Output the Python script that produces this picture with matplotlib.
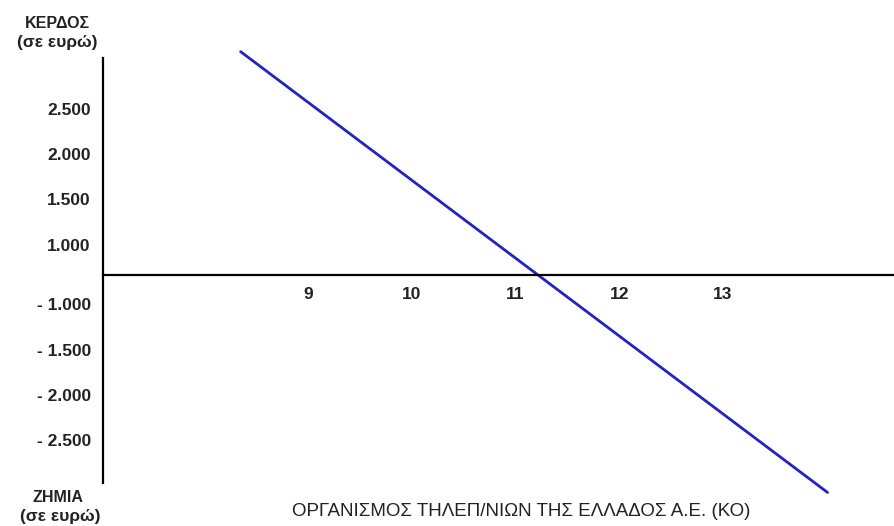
import numpy as np
import matplotlib.pyplot as plt

# === Data (schematic scale, as in the original) ===
price_ticks = [9, 10, 11, 12, 13]
price_labels = ["9", "10", "11", "12", "13"]
profit_ticks = [3.66, 2.66, 1.66, 0.66, -0.66, -1.66, -2.66, -3.66]
profit_labels = ["2.500", "2.000", "1.500", "1.000",
                 "- 1.000", "- 1.500", "- 2.000", "- 2.500"]
line_x = [8.35, 14.01]
line_y = [4.92, -4.81]

# axis extents
y_axis_x = 7.02
x_axis_end = 14.66
y_axis_top = 4.77
y_axis_bottom = -4.61

plt.rcParams['font.family'] = ['Liberation Sans', 'DejaVu Sans']

fig = plt.figure(figsize=(8.95, 5.26), dpi=100)
ax = fig.add_axes([0, 0, 1, 1])
ax.set_xlim(6.03, 14.66)
ax.set_ylim(-5.55, 6.06)

# === Axes drawn as crossing spines ===
ax.spines['top'].set_visible(False)
ax.spines['right'].set_visible(False)
ax.spines['left'].set_position(('data', y_axis_x))
ax.spines['bottom'].set_position(('data', 0))
ax.spines['left'].set_bounds(y_axis_bottom, y_axis_top)
ax.spines['bottom'].set_bounds(y_axis_x, x_axis_end)
ax.spines['left'].set_linewidth(1.6)
ax.spines['bottom'].set_linewidth(1.6)

ax.set_xticks(price_ticks)
ax.set_xticklabels(price_labels)
ax.set_yticks(profit_ticks)
ax.set_yticklabels(profit_labels)
ax.tick_params(axis='both', length=0, labelsize=12.5)
ax.tick_params(axis='x', pad=9)
ax.tick_params(axis='y', pad=8.5)
for lbl in ax.get_xticklabels() + ax.get_yticklabels():
    lbl.set_fontweight('bold')
    lbl.set_color('#222222')

# === Demand/profit line ===
ax.plot(line_x, line_y, color="#2323c0", linewidth=2.0, solid_capstyle='round')

# === Labels ===
ax.text(57, 526 - 24, "ΚΕΡΔΟΣ", transform=None, ha='center', va='center',
        fontsize=11.5, fontweight='bold', color='#222222')
ax.text(57, 526 - 43, "(σε ευρώ)", transform=None, ha='center', va='center',
        fontsize=12.5, fontweight='bold', color='#222222')
ax.text(58, 526 - 498, "ΖΗΜΙΑ", transform=None, ha='center', va='center',
        fontsize=11.5, fontweight='bold', color='#222222')
ax.text(60, 526 - 517, "(σε ευρώ)", transform=None, ha='center', va='center',
        fontsize=12.5, fontweight='bold', color='#222222')
ax.text(521, 526 - 512, "ΟΡΓΑΝΙΣΜΟΣ ΤΗΛΕΠ/ΝΙΩΝ ΤΗΣ ΕΛΛΑΔΟΣ Α.Ε. (ΚΟ)",
        transform=None, ha='center', va='center', fontsize=13.5, color='#222222')

fig.savefig("out.png", dpi=100)
